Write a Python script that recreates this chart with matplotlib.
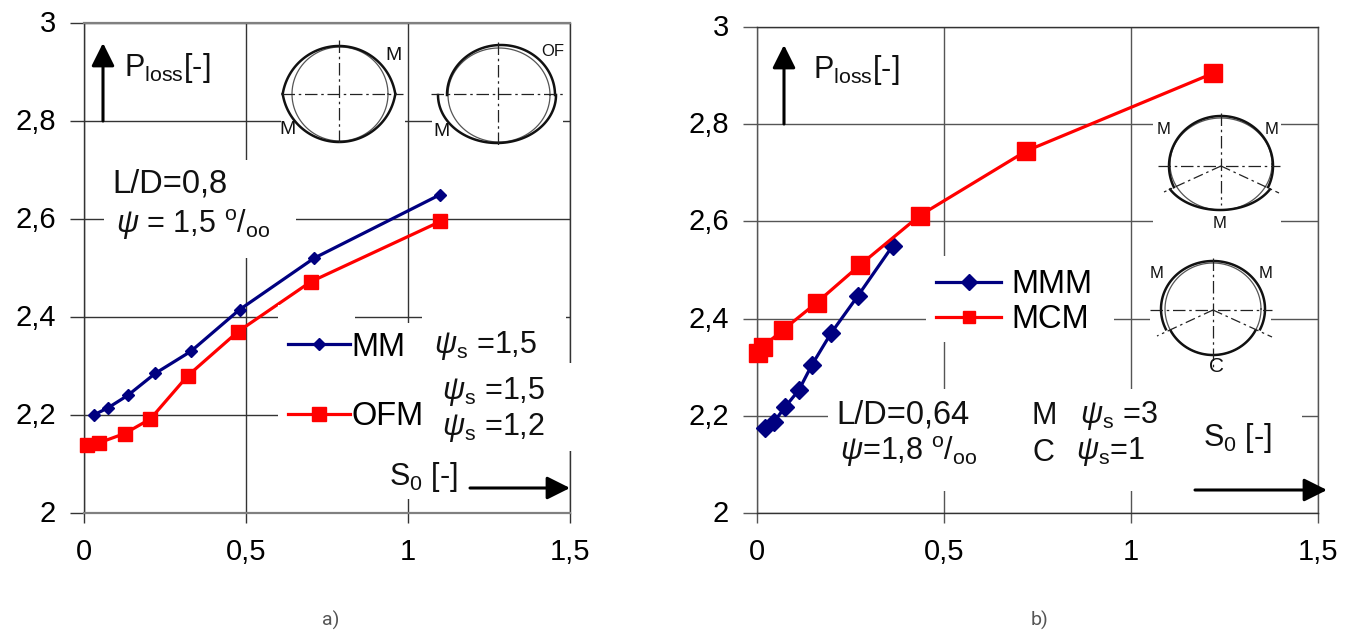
import numpy as np
import matplotlib
matplotlib.use("Agg")
import matplotlib.pyplot as plt
from matplotlib.patches import Rectangle
from matplotlib.transforms import ScaledTranslation

plt.rcParams['font.family'] = ['Liberation Sans', 'DejaVu Sans']
plt.rcParams['mathtext.fontset'] = 'custom'
plt.rcParams['mathtext.rm'] = 'Liberation Sans'
plt.rcParams['mathtext.it'] = 'Liberation Sans:italic'

#values
mm_x = [0.03, 0.075, 0.135, 0.22, 0.33, 0.48, 0.71, 1.1]
mm_y = [2.2, 2.215, 2.24, 2.285, 2.33, 2.415, 2.52, 2.65]
ofm_x = [0.01, 0.045, 0.125, 0.205, 0.32, 0.475, 0.70, 1.1]
ofm_y = [2.138, 2.143, 2.162, 2.192, 2.28, 2.37, 2.472, 2.595]
mmm_x = [0.021, 0.045, 0.075, 0.112, 0.147, 0.198, 0.27, 0.363]
mmm_y = [2.175, 2.187, 2.218, 2.253, 2.305, 2.37, 2.447, 2.55]
mcm_x = [0.003, 0.015, 0.07, 0.16, 0.275, 0.435, 0.72, 1.22]
mcm_y = [2.33, 2.342, 2.377, 2.433, 2.51, 2.612, 2.745, 2.905]
x_ticks = [0, 0.5, 1, 1.5]
x_labels = ['0', '0,5', '1', '1,5']
y_ticks = [2, 2.2, 2.4, 2.6, 2.8, 3]
y_labels = ['2', '2,2', '2,4', '2,6', '2,8', '3']

W, H = 1357, 633
NAVY = '#000080'
RED = '#ff0000'
FS = 22
FS_BIG = 23.5

fig = plt.figure(figsize=(W / 100, H / 100), dpi=100)


def make_axes(x0, x1, y0, y1, grid_col, frame_col):
    ax = fig.add_axes([x0 / W, 1 - y1 / H, (x1 - x0) / W, (y1 - y0) / H])
    ax.set_xlim(0, 1.5)
    ax.set_ylim(2, 3)
    ax.set_xticks(x_ticks)
    ax.set_xticklabels(x_labels)
    ax.set_yticks(y_ticks)
    ax.set_yticklabels(y_labels)
    ax.grid(True, color=grid_col, lw=1)
    ax.set_axisbelow(True)
    ax.tick_params(axis='x', length=7, width=1, color=grid_col, pad=11, labelsize=21)
    ax.tick_params(axis='y', length=10, width=1, color=grid_col, pad=10, labelsize=21)
    #y labels sit a little higher than the gridlines in the original
    up = ScaledTranslation(0, 2 / 100, fig.dpi_scale_trans)
    for t in ax.get_yticklabels():
        t.set_transform(t.get_transform() + up)
    for s in ['top', 'bottom']:
        ax.spines[s].set_color(frame_col)
        ax.spines[s].set_linewidth(1.6 if frame_col == '#808080' else 1)
    ax.spines['left'].set_color(grid_col)
    ax.spines['right'].set_color(grid_col)
    ax.spines['left'].set_linewidth(1)
    ax.spines['right'].set_linewidth(1)
    return ax


ax1 = make_axes(84, 570, 23, 513, '#333333', '#808080')
ax2 = make_axes(757, 1318, 27, 513, '#555555', '#333333')
for ax in [ax1, ax2]:
    ax.patch.set_visible(False)

l_mm, = ax1.plot(mm_x, mm_y, '-D', color=NAVY, lw=2.3, ms=6.5, zorder=5, clip_on=False)
l_ofm, = ax1.plot(ofm_x, ofm_y, '-s', color=RED, lw=2.3, ms=9.5, zorder=5, clip_on=False)
l_mmm, = ax2.plot(mmm_x, mmm_y, '-D', color=NAVY, lw=2.3, ms=9, zorder=5, clip_on=False)
l_mcm, = ax2.plot(mcm_x, mcm_y, '-s', color=RED, lw=2.3, ms=13, zorder=5, clip_on=False)

#overlay in image pixels for gaps, notes and the little bearing sketches
px = fig.add_axes([0, 0, 1, 1])
px.set_xlim(0, W)
px.set_ylim(H, 0)
px.axis('off')


def gap(x0, x1, y0, y1):
    px.add_patch(Rectangle((x0, y0), x1 - x0, y1 - y0, fc='white', ec='none', zorder=1))


#white boxes behind the notes, the grid stops there in the original
gap(104, 296, 160, 258)
gap(281, 405, 35, 160)
gap(432, 563, 35, 160)
gap(278, 355, 305, 330)
gap(422, 566, 305, 330)
gap(278, 568, 323, 499)
gap(568, 573, 363, 451)
gap(926, 1114, 256, 342)
gap(828, 1302, 389, 491)
gap(1153, 1281, 112, 240)
gap(1150, 1271, 255, 388)


def note(x, y, s, size=FS):
    px.text(x, y, s, fontsize=size, ha='left', va='center', color='#111111', zorder=4)


def arrow(x0, y0, x1, y1):
    px.annotate('', xy=(x1, y1), xytext=(x0, y0), zorder=4,
                arrowprops=dict(arrowstyle='-|>,head_length=1.0,head_width=0.5', color='black',
                                lw=2.2, shrinkA=0, shrinkB=0, mutation_scale=14))


def curve(cx, cy, rx, ry, a0, a1, lw=1.8, col='#111111'):
    t = np.radians(np.linspace(a0, a1, 100))
    px.plot(cx + rx * np.cos(t), cy - ry * np.sin(t), color=col, lw=lw, zorder=3)


def cross(x0, x1, y, xc, y0, y1):
    px.plot([x0, x1], [y, y], color='#222222', lw=0.9, ls=(0, (10, 3, 2, 3)), zorder=3)
    px.plot([xc, xc], [y0, y1], color='#222222', lw=0.9, ls=(0, (10, 3, 2, 3)), zorder=3)


def spoke(x0, y0, x1, y1):
    px.plot([x0, x1], [y0, y1], color='#222222', lw=0.9, ls=(0, (8, 3, 2, 3)), zorder=3)


psi_s = '$\\psi_{\\mathrm{s}}$'
permil = '$^{\\mathrm{o}}$/$_{\\mathrm{oo}}$'

#panel a notes
arrow(103, 121, 103, 43)
note(124, 68, 'P$_{\\mathrm{loss}}$[-]')
note(112, 184, 'L/D=0,8', FS_BIG)
note(116, 225, '$\\psi$ = 1,5 ' + permil)
note(434, 345, psi_s + ' =1,5')
note(442, 391, psi_s + ' =1,5')
note(442, 427, psi_s + ' =1,2')
note(389, 477, 'S$_{\\mathrm{0}}$ [-]')
arrow(470, 488, 570, 488)

#panel b notes
arrow(784, 124, 784, 45)
note(813, 70, 'P$_{\\mathrm{loss}}$[-]')
note(836, 415, 'L/D=0,64', FS_BIG)
note(840, 452, '$\\psi$=1,8 ' + permil)
note(1032, 416, 'M')
note(1080, 415, psi_s + ' =3')
note(1032, 453, 'C')
note(1076, 452, psi_s + '=1')
note(1203, 438, 'S$_{\\mathrm{0}}$ [-]')
arrow(1195, 490, 1327, 490)

#sketch MM
curve(340, 94, 48, 47, 0, 360, lw=0.9, col='#555555')
curve(339, 103, 57, 57, 9, 171)
curve(339, 85, 57, 57, 189, 351)
cross(282, 403, 94, 339, 40, 146)
note(385, 56, 'M', 14)
note(279, 130, 'M', 14)

#sketch OF
curve(499, 95, 51, 47, 0, 360, lw=0.9, col='#555555')
curve(501, 95, 54, 50, 0, 180)
curve(497, 95, 59, 48, 180, 360)
cross(431, 565, 94, 498, 42, 146)
note(541, 51, 'OF', 12)
note(433, 131, 'M', 14)

#sketch MMM
curve(1221, 164, 51, 46, 0, 360, lw=0.9, col='#555555')
curve(1221, 166, 52, 50, -25, 205)
curve(1220, 170, 57, 40, 209, 331)
cross(1158, 1280, 166, 1221, 113, 205)
spoke(1221, 166, 1164, 192)
spoke(1221, 166, 1279, 193)
note(1157, 129, 'M', 12)
note(1265, 130, 'M', 12)
note(1213, 223, 'M', 12)

#sketch MCM
curve(1213, 309, 48, 46, 0, 360, lw=0.9, col='#555555')
curve(1213, 309, 52, 48, -25, 205)
curve(1213, 309, 48, 46, 208, 332)
cross(1150, 1272, 310, 1213, 258, 367)
spoke(1213, 310, 1157, 336)
spoke(1213, 310, 1272, 337)
note(1150, 273, 'M', 12)
note(1259, 274, 'M', 12)
note(1209, 366, 'C', 15)

#legends
leg1 = px.legend([l_mm, l_ofm], ['MM', 'OFM'], loc='center left', bbox_to_anchor=(288, 382),
                 bbox_transform=px.transData, frameon=False, fontsize=FS_BIG, numpoints=1,
                 handlelength=1.9, handletextpad=0.05, labelspacing=1.18, borderpad=0, borderaxespad=0)
px.add_artist(leg1)
leg2 = px.legend([l_mmm, l_mcm], ['MMM', 'MCM'], loc='center left', bbox_to_anchor=(936, 302),
                 bbox_transform=px.transData, frameon=False, fontsize=FS_BIG, numpoints=1,
                 handlelength=2.0, handletextpad=0.3, labelspacing=0.12, borderpad=0, borderaxespad=0)
for h in leg2.legend_handles:
    h.set_markersize(8)
leg1.set_zorder(5)
leg2.set_zorder(5)

#captions under the panels
px.text(331, 620, 'a)', fontsize=14, family='Roboto', color='#555555', ha='center', va='center')
px.text(1040, 620, 'b)', fontsize=14, family='Roboto', color='#555555', ha='center', va='center')

fig.savefig('out.png', dpi=100)
